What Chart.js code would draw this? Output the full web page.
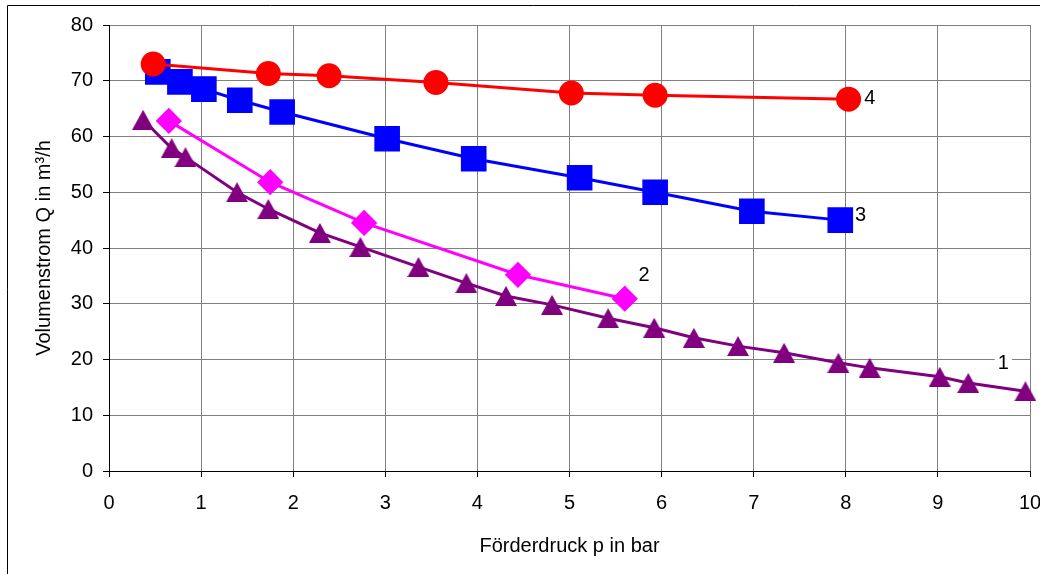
<!DOCTYPE html>
<html>
<head>
<meta charset="utf-8">
<script src="https://cdn.jsdelivr.net/npm/chart.js@4"></script>
<style>
  body { margin: 0; background: #fff; overflow: hidden; }
  #wrap { width: 1040px; height: 574px; overflow: hidden; }
</style>
</head>
<body>
<div id="wrap"><canvas id="chart" width="1060" height="574"></canvas></div>
<script>
// Kennlinien: Förderdruck p (bar) -> Volumenstrom Q (m³/h)
const p1 = [0.37, 0.68, 0.83, 1.39, 1.73, 2.29, 2.73, 3.36, 3.88, 4.31, 4.81, 5.42, 5.92, 6.35, 6.83, 7.33, 7.92, 8.26, 9.02, 9.33, 9.95];
const q1 = [63.0, 57.9, 56.3, 50.0, 47.0, 42.7, 40.2, 36.6, 33.7, 31.4, 29.8, 27.4, 25.7, 23.9, 22.4, 21.2, 19.4, 18.5, 16.9, 15.8, 14.3];

const p2 = [0.65, 1.75, 2.77, 4.44, 5.60];
const q2 = [62.8, 51.8, 44.5, 35.2, 30.9];

const p3 = [0.53, 0.77, 1.03, 1.42, 1.88, 3.02, 3.96, 5.11, 5.93, 6.98, 7.94];
const q3 = [71.6, 69.8, 68.5, 66.5, 64.4, 59.6, 56.0, 52.6, 50.0, 46.6, 45.0];

const p4 = [0.48, 1.73, 2.39, 3.55, 5.02, 5.93, 8.03];
const q4 = [73.0, 71.3, 70.9, 69.7, 67.8, 67.4, 66.7];

// Kurvennummern
const curveNames = ["1", "2", "3", "4"];
const curveNameX = [9.71, 5.81, 8.16, 8.26];
const curveNameY = [19.2, 35.0, 45.9, 66.9];

const xTitle = "Förderdruck p in bar";
const yTitle = "Volumenstrom Q in m³/h";

const FONT = "'Liberation Sans', Arial, sans-serif";

function toPoints(xs, ys) {
  return xs.map((x, i) => ({ x: x, y: ys[i] }));
}

// Dreieck wie in Excel: mittig in der Box
function triangleImage(color, w, h) {
  const c = document.createElement("canvas");
  c.width = w;
  c.height = h;
  const g = c.getContext("2d");
  g.fillStyle = color;
  g.beginPath();
  g.moveTo(w / 2, 0);
  g.lineTo(w, h);
  g.lineTo(0, h);
  g.closePath();
  g.fill();
  return c;
}

const extras = {
  id: "extras",
  beforeDraw(chart) {
    const ctx = chart.ctx;
    ctx.save();
    ctx.fillStyle = "#fff";
    ctx.fillRect(0, 0, chart.width, chart.height);
    ctx.strokeStyle = "#000";
    ctx.lineWidth = 1;
    ctx.beginPath();
    ctx.moveTo(7.5, chart.height);
    ctx.lineTo(7.5, 5.5);
    ctx.lineTo(chart.width, 5.5);
    ctx.stroke();
    ctx.restore();
  },
  beforeDatasetsDraw(chart) {
    const ctx = chart.ctx;
    const xs = chart.scales.x, ys = chart.scales.y;
    ctx.save();
    ctx.font = "20px " + FONT;
    ctx.textAlign = "center";
    ctx.textBaseline = "middle";
    curveNames.forEach((t, i) => {
      const px = xs.getPixelForValue(curveNameX[i]);
      const py = ys.getPixelForValue(curveNameY[i]);
      const w = ctx.measureText(t).width;
      ctx.fillStyle = "#fff";
      ctx.fillRect(px - w / 2 - 3, py - 11, w + 6, 22);
      ctx.fillStyle = "#000";
      ctx.fillText(t, px, py);
    });
    ctx.restore();
  }
};

const ctx = document.getElementById("chart").getContext("2d");
new Chart(ctx, {
  type: "scatter",
  data: {
    datasets: [
      {
        label: "4",
        data: toPoints(p4, q4),
        showLine: true,
        borderColor: "#ff0000",
        borderWidth: 3,
        pointStyle: "circle",
        pointRadius: 11,
        pointBackgroundColor: "#ff0000",
        pointBorderColor: "#ff0000",
        clip: false,
        order: 0
      },
      {
        label: "3",
        data: toPoints(p3, q3),
        showLine: true,
        borderColor: "#0000ff",
        borderWidth: 3,
        pointStyle: "rect",
        pointRadius: 16,
        pointBackgroundColor: "#0000ff",
        pointBorderColor: "#0000ff",
        clip: false,
        order: 1
      },
      {
        label: "2",
        data: toPoints(p2, q2),
        showLine: true,
        borderColor: "#ff00ff",
        borderWidth: 3,
        pointStyle: "rectRot",
        pointRadius: 11,
        pointBackgroundColor: "#ff00ff",
        pointBorderColor: "#ff00ff",
        clip: false,
        order: 2
      },
      {
        label: "1",
        data: toPoints(p1, q1),
        showLine: true,
        borderColor: "#800080",
        borderWidth: 3,
        pointStyle: triangleImage("#800080", 22, 20),
        pointRadius: 11,
        pointBackgroundColor: "#800080",
        pointBorderColor: "#800080",
        clip: false,
        order: 3
      }
    ]
  },
  options: {
    responsive: false,
    animation: false,
    events: [],
    layout: { padding: { left: 0, top: 25, right: 30, bottom: 0 } },
    plugins: {
      legend: { display: false },
      tooltip: { enabled: false }
    },
    scales: {
      x: {
        type: "linear",
        min: 0,
        max: 10,
        afterFit(scale) {
          scale.height = 103;
        },
        ticks: { stepSize: 1, color: "#000", padding: 14, font: { family: FONT, size: 20 } },
        grid: { color: "#808080", tickColor: "#000", tickLength: 6, drawTicks: true },
        border: { color: "#000", width: 1 },
        title: {
          display: true,
          text: xTitle,
          color: "#000",
          font: { family: FONT, size: 20 },
          padding: { top: 0, bottom: 16 }
        }
      },
      y: {
        min: 0,
        max: 80,
        afterFit(scale) {
          scale.width = 109;
        },
        ticks: { stepSize: 10, color: "#000", padding: 10, font: { family: FONT, size: 20 } },
        grid: { color: "#808080", tickColor: "#000", tickLength: 6, drawTicks: true },
        border: { color: "#000", width: 1 },
        title: {
          display: true,
          text: yTitle,
          color: "#000",
          font: { family: FONT, size: 20 },
          padding: { top: 32, bottom: 0 }
        }
      }
    }
  },
  plugins: [extras]
});
</script>
</body>
</html>
